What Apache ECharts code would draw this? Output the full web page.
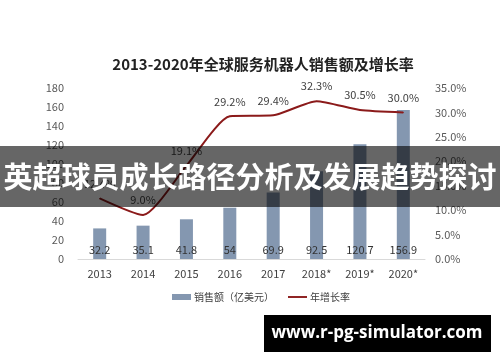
<!DOCTYPE html>
<html>
<head>
<meta charset="utf-8">
<script src="https://cdn.jsdelivr.net/npm/echarts@6/dist/echarts.min.js"></script>
<style>html,body{margin:0;padding:0;background:#fff;}#c{width:500px;height:362px;}</style>
</head>
<body>
<div id="c"></div>
<script>
const categories = ['2013','2014','2015','2016','2017','2018*','2019*','2020*'];
const sales = [32.2, 35.1, 41.8, 54, 69.9, 92.5, 120.7, 156.9];
const growth = [12.4, 9.0, 19.1, 29.2, 29.4, 32.3, 30.5, 30.0];
const leftTicks = {min: 0, max: 180, interval: 20};
const rightTicks = {min: 0, max: 35, interval: 5};
const titleText = '2013-2020年全球服务机器人销售额及增长率';
const barName = '销售额（亿美元）';
const lineName = '年增长率';
const bannerText = '英超球员成长路径分析及发展趋势探讨';
const watermarkText = 'www.r-pg-simulator.com';

const chart = echarts.init(document.getElementById('c'));
const font = '"Noto Sans CJK SC","Noto Sans",sans-serif';
chart.setOption({
  animation: false,
  textStyle: {fontFamily: font},
  title: {text: titleText, left: 258, top: 52, textAlign: 'center',
    textStyle: {fontSize: 15, fontWeight: 'bold', color: '#222', fontFamily: font}},
  grid: {left: 78, right: 75, top: 88, bottom: 103},
  legend: {top: 292, left: 172, padding: 0, itemGap: 14, itemHeight: 6, itemWidth: 19,
    textStyle: {fontSize: 10, color: '#404040', padding: [0, 0, 0, -2]},
    data: [{name: barName, icon: 'rect'},
           {name: lineName, icon: 'path://M0,0L40,0L40,4L0,4Z', itemStyle: {color: '#8b1a1a'}}]},
  xAxis: {type: 'category', data: categories,
    axisLine: {lineStyle: {color: '#d9d9d9'}}, axisTick: {show: false},
    axisLabel: {fontSize: 11, color: '#404040', margin: 9}},
  yAxis: [
    {type: 'value', ...leftTicks, splitLine: {show: false},
      axisLabel: {fontSize: 11, color: '#595959', margin: 14}},
    {type: 'value', ...rightTicks, splitLine: {show: false},
      axisLabel: {fontSize: 11, color: '#595959', margin: 10, formatter: v => v.toFixed(1) + '%'}}
  ],
  series: [
    {name: barName, type: 'bar', data: sales, barWidth: 13,
      itemStyle: {color: '#8497b0'},
      label: {show: true, position: 'insideBottom', distance: 4, fontSize: 11, color: '#333'}},
    {name: lineName, type: 'line', yAxisIndex: 1, data: growth, smooth: 0.2,
      symbol: 'circle', symbolSize: 1, showSymbol: true,
      lineStyle: {color: '#8b1a1a', width: 2}, itemStyle: {color: '#8b1a1a'},
      label: {show: true, position: 'top', distance: 9, fontSize: 11, color: '#404040',
        formatter: p => p.value.toFixed(1) + '%'}}
  ],
  graphic: [
    {type: 'rect', left: 0, top: 146, shape: {width: 500, height: 61}, style: {fill: 'rgba(0,0,0,0.6)'}, z: 100},
    {type: 'text', z: 101,
      style: {x: 250, y: 177, text: bannerText, fill: '#fff', fontSize: 29, fontWeight: 'bold',
        align: 'center', verticalAlign: 'middle', fontFamily: font}},
    {type: 'rect', left: 264, top: 315, shape: {width: 227, height: 37}, style: {fill: '#000'}, z: 100},
    {type: 'text', z: 101,
      style: {x: 377, y: 333, text: watermarkText, fill: '#fff', fontSize: 17, fontWeight: 'bold',
        align: 'center', verticalAlign: 'middle', fontFamily: '"Open Sans","DejaVu Sans",sans-serif'}}
  ]
});
</script>
</body>
</html>
